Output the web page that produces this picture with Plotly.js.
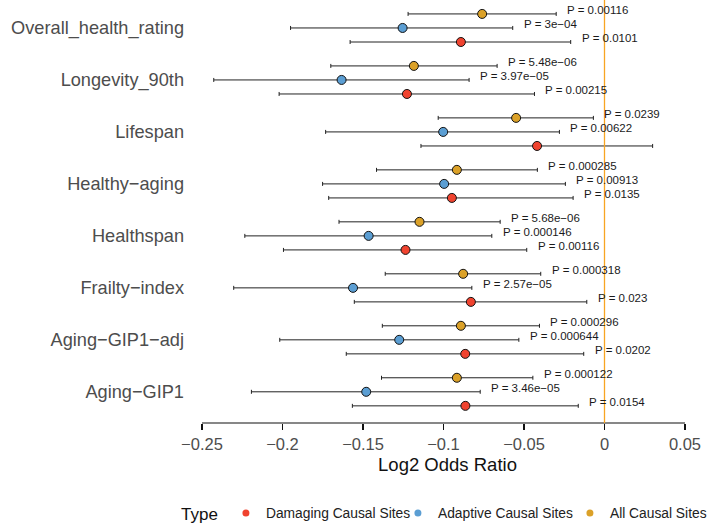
<!DOCTYPE html>
<html>
<head>
<meta charset="utf-8">
<script src="https://cdn.plot.ly/plotly-3.0.1.min.js"></script>
<style>html,body{margin:0;padding:0;background:#fff}#chart{width:718px;height:531px}</style>
</head>
<body>
<div id="chart"></div>
<script>
// Categories, bottom to top
const traits = ["Aging\u2212GIP1", "Aging\u2212GIP1\u2212adj", "Frailty\u2212index", "Healthspan", "Healthy\u2212aging", "Lifespan", "Longevity_90th", "Overall_health_rating"];

// Damaging Causal Sites
const dmgOR    = [-0.0864, -0.0865, -0.0830, -0.1236, -0.0948, -0.0419, -0.1227, -0.0892];
const dmgLower = [-0.1566, -0.1604, -0.1554, -0.1994, -0.1713, -0.1140, -0.2021, -0.1580];
const dmgUpper = [-0.0163, -0.0129, -0.0110, -0.0483, -0.0195,  0.0299, -0.0435, -0.0210];
const dmgP     = ["0.0154", "0.0202", "0.023", "0.00116", "0.0135", null, "0.00215", "0.0101"];

// Adaptive Causal Sites
const adpOR    = [-0.1480, -0.1275, -0.1562, -0.1465, -0.0996, -0.1002, -0.1633, -0.1254];
const adpLower = [-0.2193, -0.2017, -0.2303, -0.2234, -0.1751, -0.1732, -0.2427, -0.1950];
const adpUpper = [-0.0772, -0.0532, -0.0824, -0.0700, -0.0243, -0.0280, -0.0841, -0.0570];
const adpP     = ["3.46e\u221205", "0.000644", "2.57e\u221205", "0.000146", "0.00913", "0.00622", "3.97e\u221205", "3e\u221204"];

// All Causal Sites
const allOR    = [-0.0917, -0.0892, -0.0878, -0.1149, -0.0917, -0.0549, -0.1184, -0.0760];
const allLower = [-0.1385, -0.1380, -0.1362, -0.1649, -0.1416, -0.1033, -0.1700, -0.1220];
const allUpper = [-0.0445, -0.0404, -0.0396, -0.0648, -0.0417, -0.0069, -0.0667, -0.0300];
const allP     = ["0.000122", "0.000296", "0.000318", "5.68e\u221206", "0.000285", "0.0239", "5.48e\u221206", "0.00116"];

const xTicks = [-0.25, -0.2, -0.15, -0.1, -0.05, 0, 0.05];

const FONT = "Liberation Sans, Arial, Helvetica, sans-serif";
const series = [
  {name: "Damaging Causal Sites", color: "#F0432F", off: -0.27, or: dmgOR, lo: dmgLower, hi: dmgUpper, p: dmgP},
  {name: "Adaptive Causal Sites", color: "#5B9ED3", off: 0,     or: adpOR, lo: adpLower, hi: adpUpper, p: adpP},
  {name: "All Causal Sites",      color: "#DBA128", off: 0.27,  or: allOR, lo: allLower, hi: allUpper, p: allP}
];

const traces = [];
const annotations = [];
series.forEach(s => {
  const y = traits.map((_, i) => i + 1 + s.off);
  traces.push({
    type: "scatter", mode: "markers", x: s.or, y: y, showlegend: false, hoverinfo: "skip",
    marker: {size: 9, color: s.color, line: {color: "#111", width: 1}},
    error_x: {type: "data", symmetric: false,
      array: s.or.map((v, i) => s.hi[i] - v),
      arrayminus: s.or.map((v, i) => v - s.lo[i]),
      color: "#222", thickness: 1, width: 2}
  });
  s.p.forEach((p, i) => {
    if (p === null) return;
    annotations.push({x: s.hi[i], y: y[i], xref: "x", yref: "y", text: "P = " + p,
      showarrow: false, xanchor: "left", yanchor: "middle", xshift: 9, yshift: 4,
      font: {family: FONT, size: 11.5, color: "#1a1a1a"}});
  });
});
// legend entries (small dots)
series.forEach(s => {
  traces.push({type: "scatter", mode: "markers", x: [null], y: [null], name: s.name,
    marker: {size: 7, color: s.color}, hoverinfo: "skip"});
});

const layout = {
  width: 718, height: 531,
  margin: {l: 190, r: 13, t: 0, b: 108},
  paper_bgcolor: "#fff", plot_bgcolor: "#fff",
  font: {family: FONT, color: "#4D4D4D"},
  xaxis: {range: [-0.25745, 0.06242], tickvals: xTicks, ticks: "outside", ticklen: 6, tickwidth: 1.2,
    tickcolor: "#111", showgrid: false, zeroline: false, showline: false,
    tickfont: {family: FONT, size: 16.5, color: "#4D4D4D"},
    title: {text: "Log2 Odds Ratio", font: {family: FONT, size: 18.5, color: "#111"}, standoff: 6}},
  yaxis: {range: [0.4, 8.538], tickvals: traits.map((_, i) => i + 1), ticktext: traits,
    showgrid: false, zeroline: false, showline: false, ticks: "", ticklabelstandoff: 5,
    tickfont: {family: FONT, size: 18.2, color: "#4D4D4D"}},
  shapes: [
    {type: "line", xref: "x", yref: "paper", x0: xTicks[0], x1: xTicks[xTicks.length - 1], y0: 0, y1: 0,
      line: {color: "#111", width: 1.2}},
    {type: "line", xref: "x", yref: "paper", x0: 0, x1: 0, y0: 0, y1: 1, layer: "above",
      line: {color: "#F8A523", width: 1.3}}
  ],
  annotations: annotations,
  showlegend: true,
  legend: {orientation: "h", xref: "container", yref: "container", x: 0.2494, xanchor: "left",
    y: 0.032, yanchor: "middle", entrywidth: 127, entrywidthmode: "pixels",
    title: {text: "Type", side: "left", font: {family: FONT, size: 17, color: "#111"}},
    font: {family: FONT, size: 13.8, color: "#222"}, itemwidth: 30, tracegroupgap: 0}
};

Plotly.newPlot("chart", traces, layout, {displayModeBar: false, staticPlot: true});
</script>
</body>
</html>
